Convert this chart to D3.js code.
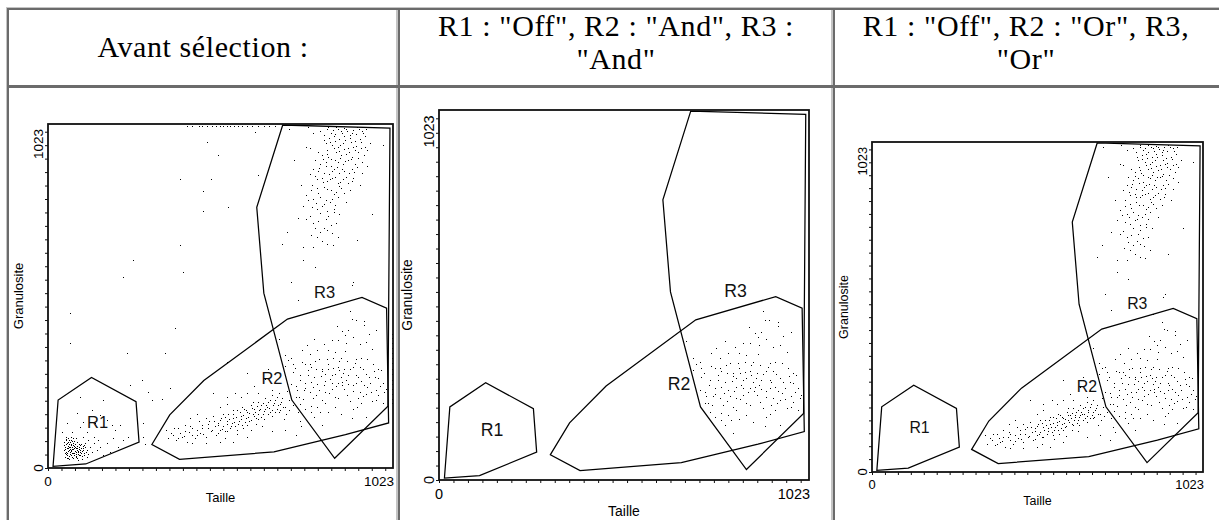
<!DOCTYPE html>
<html>
<head>
<meta charset="utf-8">
<script src="https://cdnjs.cloudflare.com/ajax/libs/d3/7.8.5/d3.min.js"></script>
<style>
  html, body { margin: 0; padding: 0; background: #fff; }
  svg { display: block; }
</style>
</head>
<body>
<div id="chart"></div>
<script>
// Header texts of the three columns (one entry per line)
var headerLines = [
  ['Avant sélection :'],
  ['R1 : "Off", R2 : "And", R3 :', '"And"'],
  ['R1 : "Off", R2 : "Or", R3,', '"Or"']
];
var xTitle = 'Taille';
var yTitle = 'Granulosite';
var tickLabels = ['0', '1023'];
var tickValues = d3.range(0, 1001, 40);

// Gates, in channel units (0 - 1023)
var gateNames = ['R1', 'R2', 'R3'];
var gateR1 = [[15, 5], [30, 202], [129, 269], [261, 197], [270, 77], [112, 12]];
var gateR2 = [[308, 70], [361, 158], [462, 260], [710, 443], [931, 507], [1004, 475],
              [1010, 134], [882, 99], [670, 48], [390, 26]];
var gateR3 = [[696, 1020], [619, 775], [640, 520], [723, 202], [850, 29], [1008, 184], [1014, 1011]];
var gateLabelPos = [[147, 138], [664, 266], [820, 523]];

var eventsR1 = [[48,78],[50,63],[53,49],[55,73],[57,39],[60,59],[62,83],[65,49],[67,68],[70,34],
  [73,56],[75,75],[77,44],[80,63],[83,34],[85,54],[87,78],[90,42],[93,63],[95,49],[98,71],[101,36],
  [105,59],[108,46],[111,73],[115,54],[120,42],[125,63],[50,34],[55,29],[63,26],[68,93],[75,88],
  [83,88],[90,24],[100,26],[117,34],[130,49],[135,73],[46,54],[49,44],[52,85],[59,65],[66,56],
  [71,46],[79,52],[86,65],[92,56],[97,59],[103,65],[110,62],[58,52],[64,42],[81,71],[72,63],[88,48],
  [52,70],[56,60],[61,72],[66,62],[69,50],[74,68],[78,58],[82,48],[86,58],[91,70],[57,45],[62,55],
  [68,40],[76,38],[84,42],[54,82],[64,77],[72,80],[95,40],[100,50],
  [47,68],[51,57],[54,41],[58,76],[61,63],[63,35],[67,53],[69,72],[71,57],[74,45],[77,66],[80,51],
  [82,36],[84,60],[89,52],[91,38],[94,67],[96,55],[99,44],[104,54],[107,68],[112,49],[53,92],[60,88],
  [69,83],[78,80],[59,31],[73,30],[87,31],[106,40],
  [41,108],[55,133],[70,108],[95,123],[115,108],[135,93],[149,83],[154,63],[174,73],[194,88],
  [209,63],[139,133],[154,158],[174,143],[199,113],[223,83],[238,93],[95,212],[85,163],[130,173],
  [164,202],[189,128],[214,128],[105,93],[144,54],[164,39],[184,49],[120,83],[105,138]];

var eventsR2 = [[350,114],[355,88],[370,98],[380,83],[386,119],[396,93],[406,109],[411,78],
  [422,124],[427,98],[437,88],[442,114],[452,104],[458,129],[468,93],[473,119],[478,140],[483,109],
  [494,124],[499,98],[504,135],[509,114],[514,150],[519,124],[524,109],[530,140],[535,160],[540,119],
  [545,135],[550,150],[555,124],[560,171],[566,140],[571,155],[576,129],[581,176],[586,150],[591,166],
  [596,140],[602,186],[607,160],[612,176],[617,150],[622,197],[627,171],[632,186],[638,160],[643,207],
  [648,181],[653,197],[658,166],[663,217],[668,186],[674,202],[679,176],[684,222],[689,191],[694,207],
  [704,181],[710,228],[715,202],[725,186],[735,212],[740,166],[746,140],[751,124],
  [519,160],[530,109],[550,171],[560,114],[576,181],[591,129],[607,197],[622,145],[643,176],[663,155],
  [684,166],[699,145],[530,191],[488,155],[468,150],[447,140],[427,119],[406,129],[391,104],[375,119],
  [488,222],[530,212],[555,222],[591,284],[612,243],[643,264],[663,233],[674,253],[591,222],[509,181],
  [571,212],[653,295],[622,222],[442,160],[422,150],
  [427,73],[509,78],[591,93],[663,109],[704,114],[735,98],[550,78],[468,73],
  [503,127],[511,143],[517,117],[526,152],[532,131],[538,146],[543,126],[548,161],[553,138],[558,153],
  [563,131],[569,167],[573,146],[578,158],[583,137],[588,172],[593,151],[597,163],[601,142],[606,178],
  [610,155],[614,168],[619,183],[623,160],[628,176],[633,153],[637,192],[641,169],[646,187],[651,161],
  [655,179],[659,201],[664,173],[669,193],[673,166],[678,211],[683,186],[687,172],[692,197],[697,181],
  [461,101],[474,132],[486,112],[492,141],[505,103],[457,118],[441,97],[419,108],[402,96],[385,88],
  [366,104],[579,118],[617,131],[641,145],[561,101],[524,88],[601,112],[636,126],[707,161],[716,173]];

var eventsR2R3 = [[896,466],[901,443],[938,438],[938,426],[891,410],[873,406],[882,395],[905,389],
  [859,380],[942,374],[924,369],[684,383],[790,383],[767,366],[818,369],[841,380],[799,350],[850,346],
  [882,349],[961,355],[974,410],[702,337],[721,327],[725,309],[753,314],[762,309],[776,309],[804,323],
  [827,323],[845,327],[868,327],[887,318],[914,323],[928,327],[947,323],[702,304],[781,300],[795,295],
  [813,295],[831,295],[859,300],[878,295],[905,300],[924,300],[965,309],[979,295],[988,291],[748,277],
  [772,277],[790,272],[813,288],[822,281],[841,277],[850,281],[864,291],[868,272],[891,277],[914,277],
  [942,281],[970,272],[979,268],[721,249],[735,244],[762,254],[781,256],[799,249],[822,258],[841,254],
  [859,254],[873,256],[891,251],[914,254],[928,258],[956,254],[993,254],[739,231],[758,231],[776,226],
  [804,231],[822,226],[841,235],[878,235],[905,229],[924,226],[947,240],[974,231],[997,226],[744,212],
  [785,208],[813,203],[850,212],[887,217],[919,208],[942,221],[979,217],[748,189],[781,185],[799,180],
  [822,194],[850,180],[905,175],[928,194],[961,198],[993,194],[781,166],[790,152],[808,166],[813,129],
  [901,148],[942,152],[762,175],[725,286],[1002,235],
  [711,322],[733,296],[747,262],[763,238],[771,291],[787,241],[793,318],[809,274],[817,247],[829,309],
  [836,264],[846,298],[853,243],[862,318],[871,247],[876,283],[884,262],[896,294],[903,246],[911,312],
  [919,270],[933,293],[937,247],[951,271],[958,225],[967,287],[985,243],[756,206],[796,218],[833,223],
  [861,207],[896,199],[934,214],[972,203],[829,168],[868,161],[916,182],[857,423],[912,441],[951,398],
  [884,372],[829,352],[778,338],[752,351]];

var eventsR3 = [[715,1008],[771,1013],[787,997],[828,1008],[838,997],[854,1013],[869,1003],[884,1008],
  [900,997],[915,1013],[931,1003],[941,987],[833,982],[848,987],[864,977],[879,987],[895,982],[910,972],
  [925,977],[823,966],[843,961],[859,956],[874,966],[889,951],[905,956],[956,966],[992,961],[766,956],
  [776,951],[802,940],[812,930],[828,935],[838,920],[854,940],[869,930],[884,935],[900,925],[920,940],
  [936,930],[946,946],[792,915],[807,904],[823,910],[838,899],[859,910],[874,904],[889,915],[910,904],
  [931,910],[787,889],[802,884],[817,878],[833,873],[848,889],[864,878],[879,884],[900,889],[915,894],
  [931,878],[946,899],[730,915],[776,873],[797,858],[812,863],[828,853],[843,863],[859,847],[874,858],
  [889,847],[905,863],[925,842],[751,842],[782,842],[797,832],[817,837],[838,827],[854,822],[869,832],
  [895,827],[766,811],[787,801],[807,806],[823,796],[843,801],[859,806],[884,791],[756,780],[782,775],
  [797,770],[812,780],[828,765],[848,770],[864,755],[961,755],[740,744],[766,739],[787,729],[802,734],
  [823,739],[838,724],[854,729],[915,677],[792,713],[807,703],[828,708],[797,687],[756,656],[828,667],
  [859,687],[710,703],[694,667],[787,656],[756,620],[792,599],[720,553],[905,553],[740,501],[900,543],
  [869,491],
  [806,1003],[817,991],[829,1015],[845,1004],[852,992],[861,1009],[873,995],[877,1012],[888,1001],
  [896,991],[903,1006],[912,994],[921,1009],[934,996],[944,1007],[818,975],[836,969],[851,973],
  [866,962],[882,975],[899,968],[913,959],[928,969],[939,955],[826,947],[847,951],[862,943],[877,948],
  [893,939],[911,946],[929,951],[814,919],[831,926],[852,915],[866,921],[881,913],[897,918],[918,921],
  [805,893],[824,897],[842,884],[856,894],[871,889],[892,876],[907,881],[793,868],[815,852],[836,859],
  [852,866],[867,851],[884,864],[901,853],[781,826],[801,818],[826,829],[847,815],[862,838],[878,819],
  [772,797],[794,789],[818,785],[836,790],[852,783],[808,757],[829,749],[847,761],[777,748],[818,715],
  [841,700],[779,693],[812,676],[845,663]];

var eventsOther = [[471,970],[505,931],[391,859],[482,859],[461,825],[461,764],[535,775],[391,663],
  [253,619],[401,584],[223,567],[65,460],[614,1000],[624,871],[65,371],[377,415],[233,341],[347,343],
  [278,262],[243,247],[298,227],[308,202],[337,204],[362,237],[283,133],[283,93],[288,71],[530,316]];

// saturated events piled on the top and right edges
var eventsTopEdge = [[412,1017],[428,1017],[447,1017],[458,1017],[472,1017],[486,1017],[497,1017],
  [509,1017],[518,1017],[531,1017],[540,1017],[552,1017],[563,1017],[575,1017],[589,1017],[604,1017],
  [622,1017],[640,1017],[655,1017],[672,1017]];
var eventsRightEdge = [[1019,192],[1019,206],[1019,221],[1019,236],[1019,250],[1019,263],[1019,279],
  [1019,295],[1019,311],[1019,326],[1019,342],[1019,358],[1019,371],[1019,386],[1019,398]];

var allEvents = [].concat(eventsR1, eventsR2, eventsR2R3, eventsR3, eventsOther,
                          eventsTopEdge, eventsRightEdge);
var gates = [gateR1, gateR2, gateR3];

// Which events each column shows: all, R2 and R3, R2 or R3
var panelFilters = [
  function(p) { return true; },
  function(p) { return d3.polygonContains(gateR2, p) && d3.polygonContains(gateR3, p); },
  function(p) { return d3.polygonContains(gateR2, p) || d3.polygonContains(gateR3, p); }
];

// Page layout
var W = 1219, H = 520;
var headerCenters = [203, 616, 1026];
var plotBoxes = [
  {x: 48, y: 124, w: 345, h: 344},
  {x: 439, y: 110, w: 370, h: 370},
  {x: 872, y: 142, w: 331, h: 330}
];
var light = '#c4c4c4', dark = '#6b6b6b';
var sansFont = '"Liberation Sans", Arial, sans-serif';
var serifFont = '"Liberation Serif", "Times New Roman", serif';

var svg = d3.select('#chart').append('svg')
            .attr('width', W)
            .attr('height', H);

svg.append('rect').attr('width', W).attr('height', H).attr('fill', '#fff');

// Table borders (3D look: light then dark)
var borders = [
  [6, 7, W - 6, 1, light],
  [6, 7, 1, H - 7, light],
  [7, 8, W - 7, 2, dark],
  [7, 8, 2, H - 8, dark],
  [396, 10, 2, H - 10, light],
  [398, 10, 2, H - 10, dark],
  [831, 10, 2, H - 10, light],
  [833, 10, 2, H - 10, dark],
  [7, 85, W - 7, 3, dark]
];
svg.append('g').classed('table-borders', true)
   .selectAll('rect').data(borders).join('rect')
   .attr('x', function(d) { return d[0]; })
   .attr('y', function(d) { return d[1]; })
   .attr('width', function(d) { return d[2]; })
   .attr('height', function(d) { return d[3]; })
   .attr('fill', function(d) { return d[4]; });

// Header texts
headerLines.forEach(function(lines, i) {
  var baselines = lines.length === 1 ? [57] : [35.5, 68.5];
  svg.append('g').selectAll('text').data(lines).join('text')
     .attr('x', headerCenters[i])
     .attr('y', function(d, j) { return baselines[j]; })
     .attr('text-anchor', 'middle')
     .attr('font-family', serifFont)
     .attr('font-size', 30)
     .attr('letter-spacing', 0.6)
     .attr('fill', '#000')
     .text(function(d) { return d; });
});

// One dot plot per column
plotBoxes.forEach(function(box, i) {
  var k = box.w / 345;
  var x = d3.scaleLinear().domain([0, 1023]).range([box.x, box.x + box.w]);
  var y = d3.scaleLinear().domain([0, 1023]).range([box.y + box.h, box.y]);
  var g = svg.append('g').classed('plot-' + i, true);

  // events
  g.append('g')
   .attr('shape-rendering', 'crispEdges')
   .selectAll('rect').data(allEvents.filter(panelFilters[i])).join('rect')
   .attr('x', function(d) { return Math.round(x(d[0])); })
   .attr('y', function(d) { return Math.round(y(d[1])); })
   .attr('width', 1)
   .attr('height', 1)
   .attr('fill', '#000');

  // gates
  var line = d3.line()
               .x(function(d) { return x(d[0]); })
               .y(function(d) { return y(d[1]); })
               .curve(d3.curveLinearClosed);
  g.append('g').selectAll('path').data(gates).join('path')
   .attr('d', line)
   .attr('fill', 'none')
   .attr('stroke', '#000')
   .attr('stroke-width', 1.25);

  g.append('g').selectAll('text').data(gateNames).join('text')
   .attr('x', function(d, j) { return x(gateLabelPos[j][0]); })
   .attr('y', function(d, j) { return y(gateLabelPos[j][1]); })
   .attr('dy', '0.36em')
   .attr('text-anchor', 'middle')
   .attr('font-family', sansFont)
   .attr('font-size', 16.5 * k)
   .attr('fill', '#111')
   .text(function(d) { return d; });

  // frame
  g.append('rect')
   .attr('x', x(0))
   .attr('y', y(1023))
   .attr('width', x(1023) - x(0))
   .attr('height', y(0) - y(1023))
   .attr('fill', 'none')
   .attr('stroke', '#111')
   .attr('stroke-width', 1.8);

  // tick marks
  var xAxis = g.append('g')
               .attr('transform', 'translate(0,' + (box.y + box.h) + ')')
               .call(d3.axisBottom(x).tickValues(tickValues).tickSize(3).tickFormat(''));
  var yAxis = g.append('g')
               .attr('transform', 'translate(' + box.x + ',0)')
               .call(d3.axisLeft(y).tickValues(tickValues).tickSize(3).tickFormat(''));
  [xAxis, yAxis].forEach(function(a) {
    a.select('.domain').remove();
    a.selectAll('line').attr('stroke', '#111');
  });

  // tick labels
  var fs = 13.5 * k;
  g.append('text')
   .attr('x', x(0)).attr('y', y(0) + 17.5 * k)
   .attr('text-anchor', 'middle')
   .attr('font-family', sansFont).attr('font-size', fs)
   .text(tickLabels[0]);
  g.append('text')
   .attr('x', x(1023) + 1).attr('y', y(0) + 17.5 * k)
   .attr('text-anchor', 'end')
   .attr('font-family', sansFont).attr('font-size', fs)
   .text(tickLabels[1]);
  g.append('text')
   .attr('transform', 'translate(' + (x(0) - 5 * k) + ',' + y(0) + ') rotate(-90)')
   .attr('text-anchor', 'middle')
   .attr('font-family', sansFont).attr('font-size', fs)
   .text(tickLabels[0]);
  g.append('text')
   .attr('transform', 'translate(' + (x(0) - 5 * k) + ',' + (y(1023) + 5 * k) + ') rotate(-90)')
   .attr('text-anchor', 'end')
   .attr('font-family', sansFont).attr('font-size', fs)
   .text(tickLabels[1]);

  // axis titles
  g.append('text')
   .attr('x', (x(0) + x(1023)) / 2).attr('y', y(0) + 34 * k)
   .attr('text-anchor', 'middle')
   .attr('font-family', sansFont).attr('font-size', 13 * k)
   .text(xTitle);
  g.append('text')
   .attr('transform', 'translate(' + (x(0) - 25 * k) + ',' + ((y(0) + y(1023)) / 2) + ') rotate(-90)')
   .attr('text-anchor', 'middle')
   .attr('font-family', sansFont).attr('font-size', 13 * k)
   .text(yTitle);
});
</script>
</body>
</html>
